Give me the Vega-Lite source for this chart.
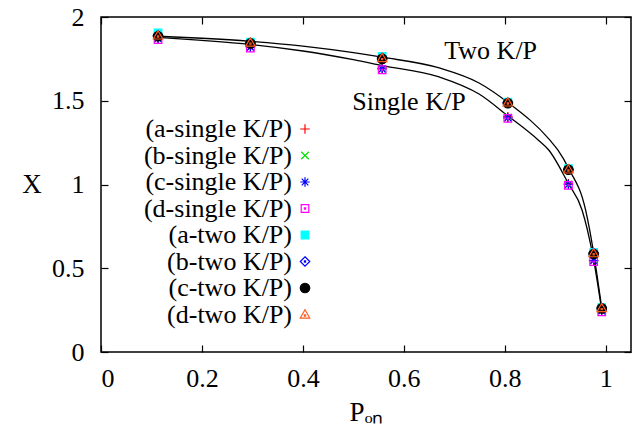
{
  "$schema": "https://vega.github.io/schema/vega-lite/v6.json",
  "width": 530,
  "height": 335,
  "autosize": {"type": "none"},
  "padding": {"left": 101, "top": 17, "right": 5, "bottom": 82},
  "config": {
    "font": "Liberation Serif",
    "view": {"stroke": "black", "strokeWidth": 1.5},
    "axis": {
      "grid": false,
      "domain": false,
      "tickColor": "black",
      "tickSize": -7,
      "tickWidth": 1.2,
      "labelFont": "Liberation Serif",
      "labelFontSize": 26,
      "labelColor": "black",
      "titleFont": "Liberation Serif",
      "titleFontSize": 27,
      "titleColor": "black",
      "titleFontWeight": "normal"
    },
    "legend": {
      "orient": "none",
      "legendX": 191,
      "legendY": 99,
      "labelFont": "Liberation Serif",
      "labelFontSize": 26,
      "labelColor": "black",
      "labelAlign": "right",
      "labelOffset": -26,
      "labelLimit": 400,
      "symbolSize": 90,
      "symbolStrokeWidth": 1.2,
      "rowPadding": 0.5
    }
  },
  "datasets": {
    "curves": [
      {"curve": "Two", "P": 0.113, "X": 1.885},
      {"curve": "Two", "P": 0.2, "X": 1.873},
      {"curve": "Two", "P": 0.296, "X": 1.855},
      {"curve": "Two", "P": 0.4, "X": 1.826},
      {"curve": "Two", "P": 0.5, "X": 1.787},
      {"curve": "Two", "P": 0.557, "X": 1.76},
      {"curve": "Two", "P": 0.67, "X": 1.696},
      {"curve": "Two", "P": 0.749, "X": 1.606},
      {"curve": "Two", "P": 0.806, "X": 1.49},
      {"curve": "Two", "P": 0.889, "X": 1.266},
      {"curve": "Two", "P": 0.905, "X": 1.206},
      {"curve": "Two", "P": 0.927, "X": 1.093},
      {"curve": "Two", "P": 0.96, "X": 0.848},
      {"curve": "Two", "P": 0.968, "X": 0.73},
      {"curve": "Two", "P": 0.976, "X": 0.59},
      {"curve": "Two", "P": 0.992, "X": 0.262},
      {"curve": "Single", "P": 0.113, "X": 1.878},
      {"curve": "Single", "P": 0.2, "X": 1.86},
      {"curve": "Single", "P": 0.296, "X": 1.836},
      {"curve": "Single", "P": 0.4, "X": 1.797},
      {"curve": "Single", "P": 0.5, "X": 1.745},
      {"curve": "Single", "P": 0.557, "X": 1.71},
      {"curve": "Single", "P": 0.67, "X": 1.642},
      {"curve": "Single", "P": 0.749, "X": 1.54},
      {"curve": "Single", "P": 0.806, "X": 1.41},
      {"curve": "Single", "P": 0.866, "X": 1.266},
      {"curve": "Single", "P": 0.887, "X": 1.206},
      {"curve": "Single", "P": 0.926, "X": 1.005},
      {"curve": "Single", "P": 0.953, "X": 0.848},
      {"curve": "Single", "P": 0.976, "X": 0.55},
      {"curve": "Single", "P": 0.992, "X": 0.25}
    ],
    "points": [
      {"series": "(a-single K/P)", "P": 0.113, "X": 1.875},
      {"series": "(a-single K/P)", "P": 0.296, "X": 1.825},
      {"series": "(a-single K/P)", "P": 0.557, "X": 1.695},
      {"series": "(a-single K/P)", "P": 0.806, "X": 1.405},
      {"series": "(a-single K/P)", "P": 0.926, "X": 1.005},
      {"series": "(a-single K/P)", "P": 0.976, "X": 0.545},
      {"series": "(a-single K/P)", "P": 0.992, "X": 0.25},
      {"series": "(b-single K/P)", "P": 0.113, "X": 1.872},
      {"series": "(b-single K/P)", "P": 0.296, "X": 1.822},
      {"series": "(b-single K/P)", "P": 0.557, "X": 1.69},
      {"series": "(b-single K/P)", "P": 0.806, "X": 1.4},
      {"series": "(b-single K/P)", "P": 0.926, "X": 1.0},
      {"series": "(b-single K/P)", "P": 0.976, "X": 0.55},
      {"series": "(b-single K/P)", "P": 0.992, "X": 0.248},
      {"series": "(c-single K/P)", "P": 0.113, "X": 1.872},
      {"series": "(c-single K/P)", "P": 0.296, "X": 1.82},
      {"series": "(c-single K/P)", "P": 0.557, "X": 1.69},
      {"series": "(c-single K/P)", "P": 0.806, "X": 1.398},
      {"series": "(c-single K/P)", "P": 0.926, "X": 1.0},
      {"series": "(c-single K/P)", "P": 0.976, "X": 0.545},
      {"series": "(c-single K/P)", "P": 0.992, "X": 0.245},
      {"series": "(d-single K/P)", "P": 0.113, "X": 1.865},
      {"series": "(d-single K/P)", "P": 0.296, "X": 1.815},
      {"series": "(d-single K/P)", "P": 0.557, "X": 1.685},
      {"series": "(d-single K/P)", "P": 0.806, "X": 1.395},
      {"series": "(d-single K/P)", "P": 0.926, "X": 0.995},
      {"series": "(d-single K/P)", "P": 0.976, "X": 0.54},
      {"series": "(d-single K/P)", "P": 0.992, "X": 0.24},
      {"series": "(a-two K/P)", "P": 0.113, "X": 1.905},
      {"series": "(a-two K/P)", "P": 0.296, "X": 1.85},
      {"series": "(a-two K/P)", "P": 0.557, "X": 1.765},
      {"series": "(a-two K/P)", "P": 0.806, "X": 1.492},
      {"series": "(a-two K/P)", "P": 0.926, "X": 1.095},
      {"series": "(a-two K/P)", "P": 0.976, "X": 0.595},
      {"series": "(a-two K/P)", "P": 0.992, "X": 0.265},
      {"series": "(b-two K/P)", "P": 0.113, "X": 1.89},
      {"series": "(b-two K/P)", "P": 0.296, "X": 1.845},
      {"series": "(b-two K/P)", "P": 0.557, "X": 1.755},
      {"series": "(b-two K/P)", "P": 0.806, "X": 1.488},
      {"series": "(b-two K/P)", "P": 0.926, "X": 1.09},
      {"series": "(b-two K/P)", "P": 0.976, "X": 0.59},
      {"series": "(b-two K/P)", "P": 0.992, "X": 0.262},
      {"series": "(c-two K/P)", "P": 0.113, "X": 1.885},
      {"series": "(c-two K/P)", "P": 0.296, "X": 1.842},
      {"series": "(c-two K/P)", "P": 0.557, "X": 1.75},
      {"series": "(c-two K/P)", "P": 0.806, "X": 1.485},
      {"series": "(c-two K/P)", "P": 0.926, "X": 1.088},
      {"series": "(c-two K/P)", "P": 0.976, "X": 0.585},
      {"series": "(c-two K/P)", "P": 0.992, "X": 0.26},
      {"series": "(d-two K/P)", "P": 0.113, "X": 1.89},
      {"series": "(d-two K/P)", "P": 0.296, "X": 1.847},
      {"series": "(d-two K/P)", "P": 0.557, "X": 1.755},
      {"series": "(d-two K/P)", "P": 0.806, "X": 1.49},
      {"series": "(d-two K/P)", "P": 0.926, "X": 1.09},
      {"series": "(d-two K/P)", "P": 0.976, "X": 0.59},
      {"series": "(d-two K/P)", "P": 0.992, "X": 0.262}
    ],
    "labels": [
      {"label": "Two K/P", "P": 0.772, "X": 1.8},
      {"label": "Single K/P", "P": 0.61, "X": 1.49}
    ]
  },
  "layer": [
    {
      "data": {"name": "curves"},
      "mark": {"type": "line", "interpolate": "monotone", "color": "black", "strokeWidth": 1.3},
      "encoding": {
        "x": {"field": "P", "type": "quantitative", "scale": {"domain": [0, 1.05], "nice": false, "zero": false},
              "axis": {"orient": "top", "labels": false, "title": null, "values": [0, 0.2, 0.4, 0.6, 0.8, 1]}},
        "y": {"field": "X", "type": "quantitative", "scale": {"domain": [0, 2], "nice": false},
              "axis": {"orient": "right", "labels": false, "title": null, "values": [0, 0.5, 1, 1.5, 2]}},
        "detail": {"field": "curve"}
      }
    },
    {
      "data": {"name": "points"},
      "mark": {"type": "point", "filled": true, "size": 90, "strokeWidth": 1.2, "opacity": 1},
      "encoding": {
        "x": {"field": "P", "type": "quantitative",
              "axis": {"orient": "bottom", "values": [0, 0.2, 0.4, 0.6, 0.8, 1], "format": "~g", "labelPadding": 20, "title": "Pₒₙ", "titlePadding": 8}},
        "y": {"field": "X", "type": "quantitative",
              "axis": {"orient": "left", "values": [0, 0.5, 1, 1.5, 2], "format": "~g", "labelPadding": 24, "title": "X", "titleAngle": 0, "titlePadding": 20, "titleBaseline": "middle"}},
        "shape": {"field": "series", "type": "nominal", "title": null,
          "scale": {
            "domain": ["(a-single K/P)", "(b-single K/P)", "(c-single K/P)", "(d-single K/P)", "(a-two K/P)", "(b-two K/P)", "(c-two K/P)", "(d-two K/P)"],
            "range": [
              "M-1,0L1,0M0,-1L0,1",
              "M-0.8,-0.8L0.8,0.8M-0.8,0.8L0.8,-0.8",
              "M-1,0L1,0M0,-1L0,1M-0.7,-0.7L0.7,0.7M-0.7,0.7L0.7,-0.7",
              "M-0.8,-0.8L0.8,-0.8L0.8,0.8L-0.8,0.8ZM-0.12,-0.12L0.12,-0.12L0.12,0.12L-0.12,0.12Z",
              "M-0.8,-0.8L0.8,-0.8L0.8,0.8L-0.8,0.8Z",
              "M0,-1L1,0L0,1L-1,0ZM-0.12,-0.12L0.12,-0.12L0.12,0.12L-0.12,0.12Z",
              "circle",
              "M0,-1L1,0.75L-1,0.75ZM-0.12,0.1L0.12,0.1L0.12,0.34L-0.12,0.34Z"
            ]}},
        "stroke": {"field": "series", "type": "nominal", "title": null,
          "scale": {
            "domain": ["(a-single K/P)", "(b-single K/P)", "(c-single K/P)", "(d-single K/P)", "(a-two K/P)", "(b-two K/P)", "(c-two K/P)", "(d-two K/P)"],
            "range": ["#ff0000", "#00e000", "#0000ff", "#ff00ff", "#00ffff", "#0000ff", "#000000", "#ff5a1e"]}},
        "fill": {"field": "series", "type": "nominal", "title": null,
          "scale": {
            "domain": ["(a-single K/P)", "(b-single K/P)", "(c-single K/P)", "(d-single K/P)", "(a-two K/P)", "(b-two K/P)", "(c-two K/P)", "(d-two K/P)"],
            "range": ["transparent", "transparent", "transparent", "transparent", "#00ffff", "transparent", "#000000", "transparent"]}}
      }
    },
    {
      "data": {"name": "labels"},
      "mark": {"type": "text", "font": "Liberation Serif", "fontSize": 26, "color": "black", "align": "center", "baseline": "middle"},
      "encoding": {
        "x": {"field": "P", "type": "quantitative", "axis": null},
        "y": {"field": "X", "type": "quantitative", "axis": null},
        "text": {"field": "label"}
      }
    }
  ],
  "resolve": {"axis": {"x": "independent", "y": "independent"}}
}
